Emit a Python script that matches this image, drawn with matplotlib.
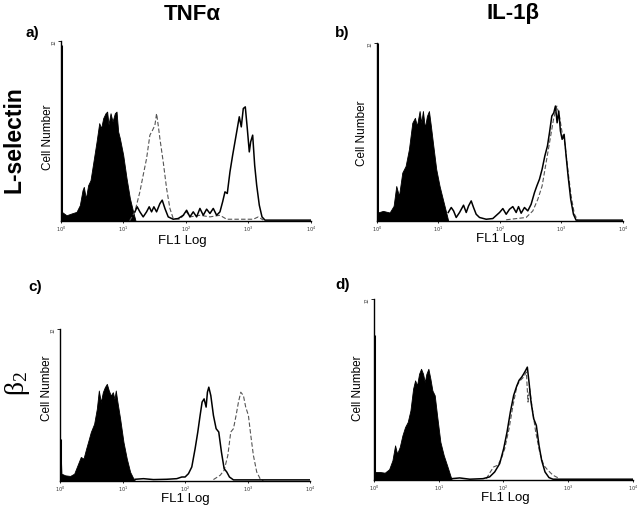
import numpy as np
import matplotlib
matplotlib.use("Agg")
import matplotlib.pyplot as plt
from matplotlib.ticker import FixedLocator, NullLocator

plt.rcParams['font.family'] = ['Liberation Sans', 'DejaVu Sans']

# FL1 positions are in decades (0 -> 10^0, 4 -> 10^4); heights in % of axis height
# panel a) TNFa / L-selectin
a_fill_x = [0, 0.016, 0.091, 0.171, 0.251, 0.304, 0.347, 0.368, 0.400, 0.437, 0.475, 0.517, 0.571,
            0.614, 0.645, 0.677, 0.715, 0.741, 0.763, 0.795, 0.827, 0.864, 0.891, 0.917, 0.944,
            0.997, 1.051, 1.104, 1.157, 1.195]
a_fill_y = [97.6, 5.0, 3.1, 4.1, 5.0, 8.7, 17.0, 18.9, 12.4, 19.8, 22.6, 31.9, 43.9,
            54.3, 51.5, 57.0, 59.8, 60.7, 53.5, 59.8, 55.2, 59.8, 60.7, 49.6, 45.9,
            36.7, 23.7, 12.6, 5.0, 0]
a_dash_x = [1.10, 1.184, 1.264, 1.317, 1.371, 1.424, 1.467, 1.504, 1.531, 1.557, 1.584, 1.637, 1.691,
            1.744, 1.797, 1.904, 2.011, 2.064, 2.224, 2.384, 2.544, 2.651, 3.077, 3.157, 3.237]
a_dash_y = [0, 5.0, 16.1, 25.4, 34.6, 47.6, 50.4, 53.1, 59.6, 53.1, 45.7, 32.8, 18.0,
            6.9, 1.3, 0.9, 5.0, 2.2, 3.1, 2.2, 3.1, 0.9, 0.9, 2.2, 0.4]
a_line_x = [1.184, 1.221, 1.264, 1.317, 1.371, 1.413, 1.451, 1.488, 1.531, 1.584, 1.621, 1.664, 1.717,
            1.797, 1.877, 1.957, 2.011, 2.064, 2.117, 2.171, 2.224, 2.277, 2.331, 2.384, 2.437,
            2.491, 2.544, 2.587, 2.624, 2.661, 2.704, 2.747, 2.784, 2.821, 2.853, 2.885, 2.917,
            2.949, 2.981, 3.013, 3.035, 3.067, 3.099, 3.131, 3.173, 3.216, 3.264, 3.557, 4.0]
a_line_y = [5.0, 7.8, 5.0, 2.2, 5.0, 7.8, 5.0, 7.8, 5.0, 9.6, 11.5, 6.9, 2.2,
            0.9, 1.3, 3.1, 5.9, 2.2, 5.0, 2.2, 6.9, 3.1, 6.5, 4.1, 6.9,
            3.1, 5.0, 10.6, 16.1, 15.2, 27.2, 36.5, 43.9, 51.3, 57.8, 52.2, 62.4,
            63.3, 51.3, 38.3, 43.9, 47.6, 30.9, 19.8, 8.7, 2.2, 0.4, 0.4, 0.4]

# panel b) IL-1b / L-selectin
b_fill_x = [0, 0.016, 0.098, 0.206, 0.271, 0.314, 0.358, 0.412, 0.466, 0.520, 0.575, 0.618, 0.650,
            0.694, 0.721, 0.748, 0.780, 0.813, 0.846, 0.878, 0.911, 0.965, 1.019, 1.073, 1.127, 1.160]
b_fill_y = [100, 4.7, 5.6, 4.7, 8.4, 19.6, 14.0, 27.1, 30.8, 40.2, 55.1, 57.9, 53.3,
            61.7, 55.1, 61.7, 52.3, 58.9, 61.7, 53.3, 43.9, 29.0, 19.6, 12.1, 4.7, 0]
b_line_x = [1.160, 1.209, 1.247, 1.290, 1.344, 1.409, 1.453, 1.491, 1.534, 1.572, 1.615, 1.669, 1.778,
            1.886, 1.995, 2.049, 2.103, 2.157, 2.211, 2.266, 2.304, 2.347, 2.401, 2.455, 2.509,
            2.564, 2.602, 2.645, 2.688, 2.732, 2.775, 2.808, 2.846, 2.878, 2.905, 2.932, 2.959,
            2.986, 3.014, 3.046, 3.079, 3.111, 3.154, 3.198, 3.241, 4.0]
b_line_y = [4.7, 7.5, 5.6, 1.9, 4.7, 8.8, 4.7, 8.4, 11.2, 7.5, 3.7, 1.9, 0.9,
            1.3, 4.7, 6.9, 3.7, 6.5, 8.0, 4.7, 8.0, 4.3, 7.5, 5.6, 9.3,
            15.9, 19.6, 23.4, 29.0, 36.4, 42.1, 49.5, 58.9, 60.7, 64.5, 55.1, 61.7,
            50.5, 45.8, 48.6, 36.4, 25.2, 12.1, 3.7, 0.4, 0.4]
b_dash_x = [2.103, 2.428, 2.537, 2.618, 2.688, 2.753, 2.818, 2.873, 2.927, 2.970, 3.014, 3.057,
            3.106, 3.160, 3.214, 3.268]
b_dash_y = [0.6, 1.9, 5.6, 12.1, 19.6, 32.7, 45.8, 57.0, 64.5, 58.9, 49.5, 43.9,
            29.0, 14.0, 3.7, 0.4]

# panel c) TNFa / beta2
c_fill_x = [0, 0.021, 0.080, 0.160, 0.224, 0.277, 0.330, 0.373, 0.415, 0.453, 0.490, 0.543, 0.586,
            0.618, 0.650, 0.682, 0.714, 0.746, 0.778, 0.810, 0.842, 0.868, 0.889, 0.916, 0.959,
            1.012, 1.065, 1.119, 1.172, 1.198]
c_fill_y = [27.8, 4.8, 3.7, 3.3, 4.8, 10.3, 15.8, 14.7, 21.2, 26.7, 32.2, 37.6, 47.5,
            59.5, 51.9, 58.4, 61.7, 63.9, 59.5, 56.2, 58.4, 54.0, 59.5, 51.9, 40.9,
            25.6, 14.7, 5.9, 1.5, 0]
c_line_x = [1.198, 1.332, 1.491, 1.704, 1.864, 1.944, 1.997, 2.051, 2.104, 2.157, 2.200, 2.237, 2.269,
            2.301, 2.333, 2.354, 2.376, 2.408, 2.450, 2.493, 2.535, 2.578, 2.621, 2.663, 2.706,
            2.770, 4.0]
c_line_y = [1.1, 1.5, 0.9, 1.1, 1.5, 2.6, 2.6, 4.8, 9.2, 21.2, 32.2, 43.1, 51.9,
            54.0, 48.6, 58.4, 61.7, 56.2, 43.1, 34.4, 32.2, 19.0, 8.1, 5.9, 2.6,
            0.7, 0.7]
c_dash_x = [2.450, 2.557, 2.621, 2.680, 2.727, 2.770, 2.812, 2.850, 2.887, 2.929, 2.966, 3.009,
            3.047, 3.089, 3.142, 3.196, 3.249]
c_dash_y = [0.9, 3.7, 7.0, 16.8, 32.2, 34.4, 43.1, 51.9, 58.4, 56.2, 48.6, 43.1,
            30.0, 16.8, 5.9, 1.5, 0]

# panel d) IL-1b / beta2
d_fill_x = [0, 0.021, 0.093, 0.170, 0.237, 0.288, 0.329, 0.360, 0.401, 0.442, 0.483, 0.524, 0.566,
            0.607, 0.638, 0.668, 0.699, 0.730, 0.761, 0.787, 0.812, 0.843, 0.874, 0.905, 0.941,
            0.977, 1.028, 1.080, 1.131, 1.172, 1.203]
d_fill_y = [79.8, 4.4, 4.4, 4.0, 5.9, 10.8, 19.1, 14.5, 18.2, 24.6, 29.2, 32.0, 38.4,
            50.4, 55.0, 52.2, 58.6, 61.4, 58.6, 54.0, 58.6, 61.4, 55.9, 49.4, 46.7,
            35.7, 21.0, 13.6, 8.1, 3.5, 0]
d_line_x = [1.203, 1.326, 1.481, 1.686, 1.789, 1.866, 1.943, 2.005, 2.057, 2.108, 2.159, 2.201, 2.242,
            2.283, 2.314, 2.344, 2.370, 2.396, 2.427, 2.468, 2.509, 2.550, 2.591, 2.643, 2.704,
            2.766, 4.0]
d_line_y = [0.7, 1.1, 0.4, 0.7, 1.7, 4.4, 9.0, 17.3, 26.5, 37.5, 46.7, 51.3, 55.0,
            56.8, 58.6, 60.5, 62.3, 54.0, 43.0, 33.8, 30.1, 19.1, 10.8, 4.4, 1.3,
            0.4, 0.4]
d_dash_x = [1.738, 1.799, 1.851, 1.913, 1.969, 2.021, 2.088, 2.149, 2.211, 2.262, 2.314, 2.355,
            2.380, 2.406, 2.447, 2.499, 2.560, 2.622, 2.689, 2.766, 2.869]
d_dash_y = [0.7, 4.4, 7.2, 8.1, 11.8, 17.3, 28.3, 41.2, 52.2, 55.0, 56.8, 59.6,
            43.0, 50.4, 39.3, 26.5, 15.4, 8.1, 5.3, 2.6, 0.7]

decades = [0, 1, 2, 3, 4]

fig = plt.figure(figsize=(6.4, 5.1), dpi=100)

# axes rectangles (figure fraction)
rects = {
    'a': [0.095, 0.565, 0.391, 0.353],
    'b': [0.589, 0.565, 0.384, 0.349],
    'c': [0.094, 0.055, 0.391, 0.298],
    'd': [0.584, 0.057, 0.405, 0.355],
}
panels = {
    'a': (a_fill_x, a_fill_y, a_line_x, a_line_y, a_dash_x, a_dash_y),
    'b': (b_fill_x, b_fill_y, b_line_x, b_line_y, b_dash_x, b_dash_y),
    'c': (c_fill_x, c_fill_y, c_line_x, c_line_y, c_dash_x, c_dash_y),
    'd': (d_fill_x, d_fill_y, d_line_x, d_line_y, d_dash_x, d_dash_y),
}

for key, (fx, fy, lx, ly, dx, dy) in panels.items():
    ax = fig.add_axes(rects[key])
    fx = 10 ** np.array(fx)
    ax.fill_between(fx, 0, fy, color='black', lw=0.6)
    # first channel (off-scale events) drawn as a tall spike
    ax.vlines(fx[0], 0, fy[0], color='black', lw=2.2)
    ax.plot(10 ** np.array(dx), dy, color='#555555', lw=0.8, ls=(0, (4, 2)))
    ax.plot(10 ** np.array(lx), ly, color='black', lw=1.1)
    ax.set_xscale('log')
    ax.set_xlim(1, 1e4)
    ax.set_ylim(0, 100)
    for s in ['top', 'right']:
        ax.spines[s].set_visible(False)
    ax.spines['left'].set_linewidth(1.0)
    ax.spines['bottom'].set_linewidth(1.0)
    ax.xaxis.set_major_locator(FixedLocator([10 ** d for d in decades]))
    ax.xaxis.set_minor_locator(NullLocator())
    ax.set_xticklabels([r'$10^{%d}$' % d for d in decades], fontsize=3.5, color='#333333')
    ax.tick_params(axis='x', length=1.5, width=0.6, pad=0.5)
    ax.set_yticks([100])
    ax.set_yticklabels(['12'], fontsize=3.5, rotation=90, va='center', color='#333333')
    ax.tick_params(axis='y', length=2, width=0.6, pad=1)

# axis labels placed in figure pixels (origin top-left)
def ftext(x, y, s, **kw):
    fig.text(x / 640, 1 - y / 510, s, **kw)

for x, y in [(48, 137), (362, 133), (47, 388), (358, 388)]:
    ftext(x, y, 'Cell Number', rotation=90, ha='center', va='center', fontsize=8.5)
for x, y in [(182, 241), (500, 239), (185, 499), (505, 498)]:
    ftext(x, y, 'FL1 Log', ha='center', va='center', fontsize=9.5)

ftext(192, 14, 'TNFα', ha='center', va='center', fontsize=16, fontweight='bold')
ftext(513, 14, 'IL-1β', ha='center', va='center', fontsize=16, fontweight='bold')

for x, y, s in [(32, 33, 'a)'), (342, 33, 'b)'), (35, 287, 'c)'), (343, 285, 'd)')]:
    ftext(x, y, s, ha='center', va='center', fontsize=11, fontweight='bold')

ftext(14, 140, 'L-selectin', rotation=90, ha='center', va='center', fontsize=16.5, fontweight='bold')
ftext(18, 383, r'$\mathregular{\beta_2}$', rotation=90, ha='center', va='center', fontsize=20,
      family=['Liberation Serif', 'DejaVu Serif'])

fig.savefig('out.png', dpi=100)
